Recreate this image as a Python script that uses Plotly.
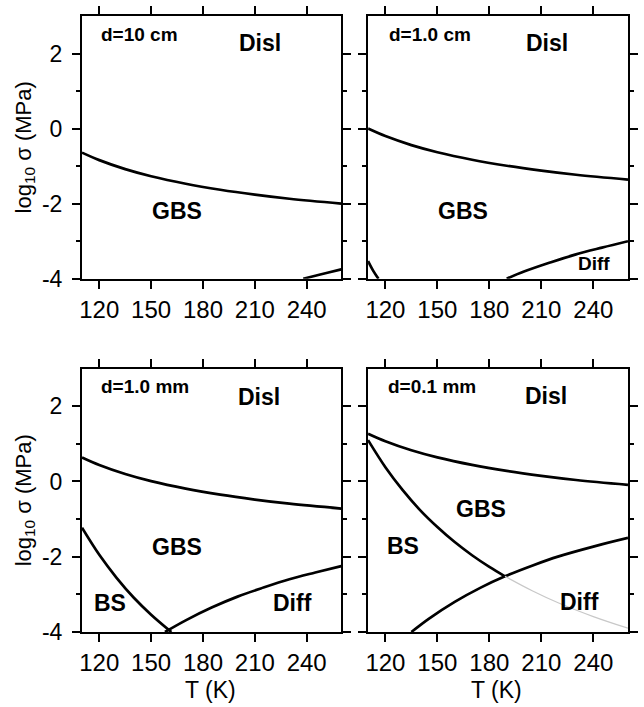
import plotly.graph_objects as go

# Deformation-mechanism maps: log10 stress vs temperature for four grain sizes
grain_sizes = ["d=10 cm", "d=1.0 cm", "d=1.0 mm", "d=0.1 mm"]

# Disl / GBS boundary
T_disl = [110, 120, 135, 150, 170, 190, 210, 230, 260]
disl_gbs = [
    [-0.64, -0.84, -1.08, -1.27, -1.47, -1.63, -1.76, -1.87, -2.00],
    [0.00, -0.20, -0.44, -0.63, -0.83, -0.99, -1.12, -1.23, -1.36],
    [0.64, 0.44, 0.20, 0.01, -0.19, -0.35, -0.48, -0.59, -0.72],
    [1.27, 1.07, 0.83, 0.64, 0.44, 0.28, 0.15, 0.04, -0.09],
]

# GBS / Diff boundary
T_diff = [
    [238, 245, 252, 260],
    [190, 200, 215, 230, 245, 260],
    [158, 170, 185, 200, 215, 230, 245, 260],
    [135, 145, 160, 175, 189, 205, 220, 240, 260],
]
gbs_diff = [
    [-4.00, -3.92, -3.84, -3.75],
    [-4.00, -3.81, -3.57, -3.35, -3.17, -3.00],
    [-4.00, -3.69, -3.35, -3.06, -2.82, -2.60, -2.42, -2.25],
    [-4.00, -3.65, -3.20, -2.82, -2.52, -2.23, -1.99, -1.73, -1.50],
]

# BS / GBS boundary (absent for the coarsest grain size)
T_bs = [
    [],
    [110, 113, 116],
    [110, 120, 130, 140, 150, 161.7],
    [110, 120, 130, 140, 150, 160, 170, 180, 189],
]
bs_gbs = [
    [],
    [-3.53, -3.79, -4.00],
    [-1.23, -1.95, -2.56, -3.09, -3.54, -4.00],
    [1.10, 0.38, -0.23, -0.76, -1.21, -1.61, -1.96, -2.27, -2.52],
]

# Continuation of the BS / GBS boundary inside the Diff field (d=0.1 mm)
T_bs_faint = [189, 205, 220, 240, 260]
bs_gbs_faint = [-2.52, -2.91, -3.23, -3.59, -3.90]

# Field labels: (text, T, log10 sigma, font size)
field_labels = [
    [("Disl", 213, 2.29, 23), ("GBS", 164.7, -2.20, 23)],
    [("Disl", 213, 2.29, 23), ("GBS", 165, -2.20, 23), ("Diff", 240.3, -3.60, 19)],
    [("Disl", 212.5, 2.25, 23), ("GBS", 164.7, -1.74, 23),
     ("BS", 126.4, -3.24, 23), ("Diff", 231.8, -3.24, 23)],
    [("Disl", 212.8, 2.28, 23), ("GBS", 175, -0.73, 23),
     ("BS", 129.9, -1.71, 23), ("Diff", 232.2, -3.20, 23)],
]
title_pos = [(120, 2.52), (121, 2.52), (120, 2.53), (120.4, 2.53)]

x_ticks = [120, 150, 180, 210, 240]
y_ticks = [-4, -2, 0, 2]
y_ticktext = ["-4", "-2", "0", "2"]
y_minor = [-3, -1, 1]

FONT = "Liberation Sans, Arial, Helvetica, sans-serif"
W, H = 644, 707
ML, MR, MT, MB = 82, 6, 13, 75
pw, ph = W - ML - MR, H - MT - MB

# panel boxes in pixels: (left, right, top, bottom)
boxes = [(82, 346, 13, 277), (373.3, 638, 13, 277),
         (82, 346, 367.3, 632), (373.3, 638, 367.3, 632)]

fig = go.Figure()
LINE = dict(color="black", width=2.7)

for i in range(4):
    ax = "" if i == 0 else str(i + 1)
    xa, ya = "x" + ax, "y" + ax
    fig.add_trace(go.Scatter(x=T_disl, y=disl_gbs[i], mode="lines",
                             line=dict(shape="spline", **LINE),
                             xaxis=xa, yaxis=ya, showlegend=False, hoverinfo="skip"))
    fig.add_trace(go.Scatter(x=T_diff[i], y=gbs_diff[i], mode="lines",
                             line=dict(shape="spline", **LINE),
                             xaxis=xa, yaxis=ya, showlegend=False, hoverinfo="skip"))
    if T_bs[i]:
        fig.add_trace(go.Scatter(x=T_bs[i], y=bs_gbs[i], mode="lines",
                                 line=dict(shape="spline", **LINE),
                                 xaxis=xa, yaxis=ya, showlegend=False, hoverinfo="skip"))
    if i == 3:
        fig.add_trace(go.Scatter(x=T_bs_faint, y=bs_gbs_faint, mode="lines",
                                 line=dict(shape="spline", color="#c8c8c8", width=1.2),
                                 xaxis=xa, yaxis=ya, showlegend=False, hoverinfo="skip"))

    l, r, t, b = boxes[i]
    xdom = [(l - ML) / pw, (r - ML) / pw]
    ydom = [(MT + ph - b) / ph, (MT + ph - t) / ph]
    xaxis = dict(domain=xdom, range=[110, 260], anchor=ya,
                 tickmode="array", tickvals=x_ticks,
                 ticks="outside", ticklen=8, tickwidth=1.6, tickcolor="black",
                 showline=True, linewidth=2, linecolor="black", mirror="ticks",
                 showgrid=False, zeroline=False,
                 tickfont=dict(family=FONT, size=24, color="black"))
    yaxis = dict(domain=ydom, range=[-4, 3], anchor=xa,
                 tickmode="array", tickvals=y_ticks, ticktext=y_ticktext,
                 showticklabels=(i % 2 == 0),
                 ticks="outside", ticklen=8, tickwidth=1.6, tickcolor="black",
                 minor=dict(tickmode="array", tickvals=y_minor, ticks="outside",
                            ticklen=4, tickwidth=1.6, tickcolor="black"),
                 showline=True, linewidth=2, linecolor="black", mirror="ticks",
                 showgrid=False, zeroline=False, ticklabelstandoff=5,
                 tickfont=dict(family=FONT, size=23, color="black"))
    fig.layout["xaxis" + ax] = xaxis
    fig.layout["yaxis" + ax] = yaxis

    tx, ty = title_pos[i]
    fig.add_annotation(x=tx, y=ty, xref=xa, yref=ya, text="<b>%s</b>" % grain_sizes[i],
                       showarrow=False, xanchor="left", yanchor="middle",
                       font=dict(family=FONT, size=19, color="black"))
    for txt, lx, ly, fs in field_labels[i]:
        fig.add_annotation(x=lx, y=ly, xref=xa, yref=ya, text="<b>%s</b>" % txt,
                           showarrow=False, xanchor="center", yanchor="middle",
                           font=dict(family=FONT, size=fs, color="black"))

# axis titles
for i in (0, 2):
    ax = "" if i == 0 else str(i + 1)
    fig.add_annotation(x=(24 - ML) / pw, y=0.5, xref="paper", yref="y%s domain" % ax,
                       text="log<sub>10</sub> σ (MPa)", textangle=-90, showarrow=False,
                       xanchor="center", yanchor="middle",
                       font=dict(family=FONT, size=22, color="black"))
for i in (2, 3):
    ax = str(i + 1)
    fig.add_annotation(x=0.495, y=(MT + ph - 690) / ph, xref="x%s domain" % ax, yref="paper",
                       text="T (K)", showarrow=False, xanchor="center", yanchor="middle",
                       font=dict(family=FONT, size=23, color="black"))

fig.update_layout(width=W, height=H, margin=dict(l=ML, r=MR, t=MT, b=MB),
                  plot_bgcolor="white", paper_bgcolor="white",
                  font=dict(family=FONT, color="black"))

fig.write_html("out.html")
